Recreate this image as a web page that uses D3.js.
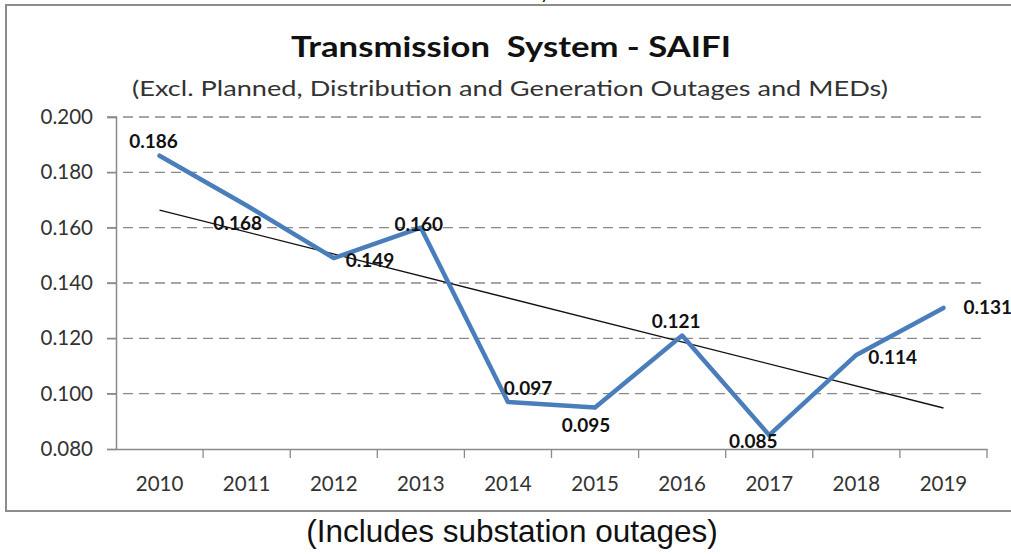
<!DOCTYPE html>
<html>
<head>
<meta charset="utf-8">
<script src="https://cdn.jsdelivr.net/npm/d3@7"></script>
<style>
  body { margin: 0; background: #fff; }
  svg { display: block; }
</style>
</head>
<body>
<svg id="chart" width="1011" height="554"></svg>
<script>
// chart data
var years = ["2010", "2011", "2012", "2013", "2014", "2015", "2016", "2017", "2018", "2019"];
var saifi = [0.186, 0.168, 0.149, 0.160, 0.097, 0.095, 0.121, 0.085, 0.114, 0.131];
var yTicks = [0.080, 0.100, 0.120, 0.140, 0.160, 0.180, 0.200];

// where each data label sits relative to its point
var labelPlace = ["above", "below", "right", "center", "aboveRight", "below", "above", "left", "right", "farRight"];

var svg = d3.select("#chart");
var m = { left: 116, right: 987, top: 117, bottom: 449 };

var x = d3.scaleBand().domain(years).range([m.left, m.right]);
var y = d3.scaleLinear().domain([0.08, 0.2]).range([m.bottom, m.top]);
var cx = function (d) { return x(d) + x.bandwidth() / 2; };

// outer frame
svg.append("path")
    .attr("d", "M6,512 L6,5 L1011,5")
    .attr("fill", "none").attr("stroke", "#8c8c8c").attr("stroke-width", 2);
svg.append("line")
    .attr("x1", 6).attr("x2", 1011).attr("y1", 511).attr("y2", 511)
    .attr("stroke", "#8c8c8c").attr("stroke-width", 2);
// fragment of text from above the frame
svg.append("text").attr("x", 540).attr("y", -1).style("font", "20px Lato").attr("fill", "#222").text("y");

// titles
svg.append("text")
    .attr("x", 511).attr("y", 57).attr("text-anchor", "middle")
    .attr("textLength", 440).attr("lengthAdjust", "spacingAndGlyphs")
    .style("white-space", "pre")
    .style("font-family", "Lato").style("font-weight", "bold").style("font-size", "29px")
    .attr("fill", "#111").text("Transmission  System - SAIFI");
svg.append("text")
    .attr("x", 510).attr("y", 96).attr("text-anchor", "middle")
    .attr("textLength", 756).attr("lengthAdjust", "spacingAndGlyphs")
    .style("font-family", "Lato").style("font-size", "21px")
    .attr("fill", "#333").text("(Excl. Planned, Distribution and Generation Outages and MEDs)");

// gridlines
svg.append("g").selectAll("line")
    .data(yTicks.slice(1))
    .join("line")
    .attr("x1", m.left - 9).attr("x2", m.right)
    .attr("y1", function (d) { return y(d); }).attr("y2", function (d) { return y(d); })
    .attr("stroke", "#8a8a8a").attr("stroke-width", 1.3).attr("stroke-dasharray", "10,6");

// y axis
var yAxis = d3.axisLeft(y).tickValues(yTicks).tickFormat(d3.format(".3f")).tickSize(9).tickPadding(14);
var gy = svg.append("g").attr("transform", "translate(" + m.left + ",0)").call(yAxis);
gy.select(".domain").attr("stroke", "#8a8a8a").attr("stroke-width", 1.5);
gy.selectAll(".tick line").attr("stroke", "#8a8a8a").attr("stroke-width", 1.3);
gy.selectAll("text").style("font-family", "Lato").style("font-size", "20.5px").attr("fill", "#333");

// x axis with ticks between categories
var xAxis = d3.axisBottom(x).tickSize(0).tickPadding(27);
var gx = svg.append("g").attr("transform", "translate(0," + m.bottom + ")").call(xAxis);
gx.select(".domain").attr("stroke", "#8a8a8a").attr("stroke-width", 1.5);
gx.selectAll("text").style("font-family", "Lato").style("font-size", "20.5px").attr("fill", "#333");
gx.selectAll(".sep")
    .data(years)
    .join("line")
    .attr("class", "sep")
    .attr("x1", function (d) { return x(d) + x.bandwidth(); })
    .attr("x2", function (d) { return x(d) + x.bandwidth(); })
    .attr("y1", 0).attr("y2", 9)
    .attr("stroke", "#8a8a8a").attr("stroke-width", 1.3);

// linear trendline from the series
var n = saifi.length;
var mx = d3.mean(d3.range(n)), my = d3.mean(saifi);
var slope = d3.sum(saifi, function (v, i) { return (i - mx) * (v - my); }) /
            d3.sum(saifi, function (v, i) { return (i - mx) * (i - mx); });
var icpt = my - slope * mx;
svg.append("line")
    .attr("x1", cx(years[0])).attr("y1", y(icpt))
    .attr("x2", cx(years[n - 1])).attr("y2", y(icpt + slope * (n - 1)))
    .attr("stroke", "#111").attr("stroke-width", 1.3);

// series line
var line = d3.line()
    .x(function (d, i) { return cx(years[i]); })
    .y(function (d) { return y(d); });
svg.append("path")
    .datum(saifi)
    .attr("d", line)
    .attr("fill", "none").attr("stroke", "#4a7ebb").attr("stroke-width", 4.5)
    .attr("stroke-linejoin", "round").attr("stroke-linecap", "round");

// data labels
var off = {
    above: [-6, -14, "middle"],
    below: [-9, 18, "middle"],
    right: [12, 3, "start"],
    farRight: [20, 0, "start"],
    center: [-2, -3, "middle"],
    aboveRight: [20, -13, "middle"],
    left: [-16, 7, "middle"]
};
svg.append("g").selectAll("text")
    .data(saifi)
    .join("text")
    .attr("x", function (d, i) { return cx(years[i]) + off[labelPlace[i]][0]; })
    .attr("y", function (d, i) { return y(d) + off[labelPlace[i]][1] + 6; })
    .attr("text-anchor", function (d, i) { return off[labelPlace[i]][2]; })
    .style("font-family", "Lato").style("font-weight", "bold").style("font-size", "19px")
    .attr("fill", "#111")
    .text(function (d) { return d3.format(".3f")(d); });

// caption below the frame
svg.append("text")
    .attr("x", 512).attr("y", 542).attr("text-anchor", "middle")
    .style("font-family", "Liberation Sans, Arial, sans-serif").style("font-size", "31.5px")
    .attr("fill", "#111").text("(Includes substation outages)");
</script>
</body>
</html>
